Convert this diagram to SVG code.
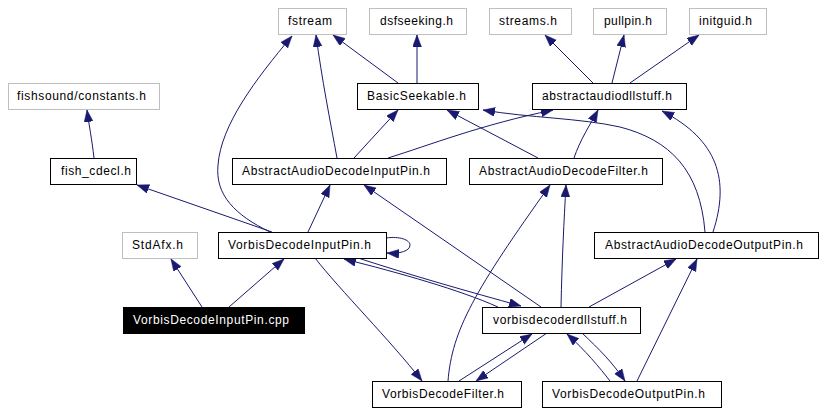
<svg xmlns="http://www.w3.org/2000/svg" width="826" height="415" viewBox="0 0 826 415">
<style>
.n rect{fill:#fff;stroke:#000;stroke-width:1}
.n.g rect{stroke:#bfbfbf}
.n.f rect{fill:#000;stroke:#000}
.n text{font-family:"Liberation Sans",Arial,sans-serif;font-size:12px;fill:#000}
.n.f text{fill:#fff}
#edges path{fill:none;stroke:#191970;stroke-width:1;marker-end:url(#ah)}
</style>
<defs>
<marker id="ah" markerUnits="userSpaceOnUse" markerWidth="13" markerHeight="10" refX="12" refY="4.5" orient="auto">
<path d="M0,0 L12,4.5 L0,9 z" fill="#191970" stroke="#191970" stroke-width="0.5"/>
</marker>
</defs>
<rect width="826" height="415" fill="#fff"/>
<g id="edges">
<path d="M202,307 L171,259"/>
<path d="M229,307 L284,259"/>
<path d="M272,232 L137,185"/>
<path d="M308,232 L330,185"/>
<path d="M270,232 C235,215 215,195 218,165 C221,125 255,80 292,36"/>
<path d="M386,238 C400,236 410,240 410,245 C410,251 400,254 387,253"/>
<path d="M315,258 C340,290 390,340 422,381"/>
<path d="M498,307 C460,290 400,273 344,259"/>
<path d="M358,258 C410,275 470,292 521,306"/>
<path d="M541,307 L364,185"/>
<path d="M561,307 C562,260 564,220 566,185"/>
<path d="M589,307 L676,259"/>
<path d="M459,381 L532,334"/>
<path d="M547,333 L476,381"/>
<path d="M610,381 C600,368 585,350 567,334"/>
<path d="M582,333 C600,350 612,362 625,381"/>
<path d="M448,381 C452,330 475,290 550,185"/>
<path d="M637,381 L697,259"/>
<path d="M713,232 C730,180 718,140 662,111"/>
<path d="M705,232 C700,170 670,140 620,127 C580,118 530,118 483,110"/>
<path d="M574,158 C580,140 590,125 598,110"/>
<path d="M538,158 L447,110"/>
<path d="M354,158 L398,110"/>
<path d="M388,158 C430,145 480,125 553,110"/>
<path d="M337,158 C330,120 322,80 316,35"/>
<path d="M94,158 C92,140 89,125 87,110"/>
<path d="M398,83 L333,35"/>
<path d="M417,83 L417,35"/>
<path d="M593,83 L545,35"/>
<path d="M612,83 L624,35"/>
<path d="M630,83 L699,35"/>
</g>
<g id="n_fstream" class="n g"><rect x="278.5" y="8.5" width="68" height="26"/><text x="288" y="25" textLength="44" lengthAdjust="spacing">fstream</text></g>
<g id="n_dsfseeking" class="n g"><rect x="369.5" y="8.5" width="97" height="26"/><text x="380" y="25" textLength="73" lengthAdjust="spacing">dsfseeking.h</text></g>
<g id="n_streams" class="n g"><rect x="489.5" y="8.5" width="82" height="26"/><text x="499" y="25" textLength="58" lengthAdjust="spacing">streams.h</text></g>
<g id="n_pullpin" class="n g"><rect x="593.5" y="8.5" width="73" height="26"/><text x="604" y="25" textLength="48" lengthAdjust="spacing">pullpin.h</text></g>
<g id="n_initguid" class="n g"><rect x="689.5" y="8.5" width="77" height="26"/><text x="699" y="25" textLength="53" lengthAdjust="spacing">initguid.h</text></g>
<g id="n_constants" class="n g"><rect x="8.5" y="83.5" width="151" height="26"/><text x="17" y="100" textLength="129" lengthAdjust="spacing">fishsound/constants.h</text></g>
<g id="n_basicseekable" class="n"><rect x="357.5" y="83.5" width="121" height="26"/><text x="367" y="100" textLength="99" lengthAdjust="spacing">BasicSeekable.h</text></g>
<g id="n_abstractaudiodllstuff" class="n"><rect x="532.5" y="83.5" width="154" height="26"/><text x="542" y="100" textLength="130" lengthAdjust="spacing">abstractaudiodllstuff.h</text></g>
<g id="n_fish_cdecl" class="n"><rect x="50.5" y="158.5" width="86" height="26"/><text x="61" y="175" textLength="70" lengthAdjust="spacing">fish_cdecl.h</text></g>
<g id="n_aadinputpin" class="n"><rect x="232.5" y="158.5" width="214" height="26"/><text x="242" y="175" textLength="188" lengthAdjust="spacing">AbstractAudioDecodeInputPin.h</text></g>
<g id="n_aadfilter" class="n"><rect x="469.5" y="158.5" width="193" height="26"/><text x="479" y="175" textLength="169" lengthAdjust="spacing">AbstractAudioDecodeFilter.h</text></g>
<g id="n_stdafx" class="n g"><rect x="122.5" y="232.5" width="75" height="26"/><text x="132" y="249" textLength="51" lengthAdjust="spacing">StdAfx.h</text></g>
<g id="n_vdinputpin_h" class="n"><rect x="218.5" y="232.5" width="168" height="26"/><text x="228" y="249" textLength="143" lengthAdjust="spacing">VorbisDecodeInputPin.h</text></g>
<g id="n_aadoutputpin" class="n"><rect x="594.5" y="232.5" width="224" height="26"/><text x="605" y="249" textLength="198" lengthAdjust="spacing">AbstractAudioDecodeOutputPin.h</text></g>
<g id="n_vdinputpin_cpp" class="n f"><rect x="123.5" y="307.5" width="181" height="26"/><text x="133" y="324" textLength="156" lengthAdjust="spacing">VorbisDecodeInputPin.cpp</text></g>
<g id="n_vddllstuff" class="n"><rect x="482.5" y="307.5" width="158" height="26"/><text x="493" y="324" textLength="134" lengthAdjust="spacing">vorbisdecoderdllstuff.h</text></g>
<g id="n_vdfilter" class="n"><rect x="372.5" y="381.5" width="149" height="26"/><text x="382" y="398" textLength="122" lengthAdjust="spacing">VorbisDecodeFilter.h</text></g>
<g id="n_vdoutputpin" class="n"><rect x="542.5" y="381.5" width="179" height="26"/><text x="552" y="398" textLength="153" lengthAdjust="spacing">VorbisDecodeOutputPin.h</text></g>
</svg>
